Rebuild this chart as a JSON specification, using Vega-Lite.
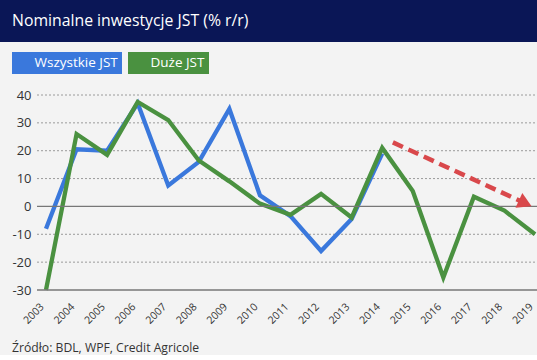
{
  "$schema": "https://vega.github.io/schema/vega-lite/v6.json",
  "background": "#f3f3f3",
  "padding": 0,
  "spacing": 10,
  "config": {"view": {"stroke": null}, "font": "Open Sans", "axis": {"labelOverlap": false, "labelSeparation": 0, "labelBound": false}},
  "datasets": {
    "main": [
      {"year": 2003, "series": "Wszystkie JST", "value": -8},
      {"year": 2004, "series": "Wszystkie JST", "value": 20.5},
      {"year": 2005, "series": "Wszystkie JST", "value": 20},
      {"year": 2006, "series": "Wszystkie JST", "value": 37},
      {"year": 2007, "series": "Wszystkie JST", "value": 7.5},
      {"year": 2008, "series": "Wszystkie JST", "value": 16},
      {"year": 2009, "series": "Wszystkie JST", "value": 35},
      {"year": 2010, "series": "Wszystkie JST", "value": 4},
      {"year": 2011, "series": "Wszystkie JST", "value": -3.5},
      {"year": 2012, "series": "Wszystkie JST", "value": -16},
      {"year": 2013, "series": "Wszystkie JST", "value": -4.5},
      {"year": 2014, "series": "Wszystkie JST", "value": 19},
      {"year": 2003, "series": "Duże JST", "value": -30},
      {"year": 2004, "series": "Duże JST", "value": 26},
      {"year": 2005, "series": "Duże JST", "value": 18.5},
      {"year": 2006, "series": "Duże JST", "value": 37.5},
      {"year": 2007, "series": "Duże JST", "value": 31},
      {"year": 2008, "series": "Duże JST", "value": 16.5},
      {"year": 2009, "series": "Duże JST", "value": 9},
      {"year": 2010, "series": "Duże JST", "value": 1},
      {"year": 2011, "series": "Duże JST", "value": -3},
      {"year": 2012, "series": "Duże JST", "value": 4.5},
      {"year": 2013, "series": "Duże JST", "value": -4},
      {"year": 2014, "series": "Duże JST", "value": 21},
      {"year": 2015, "series": "Duże JST", "value": 5.5},
      {"year": 2016, "series": "Duże JST", "value": -25.5},
      {"year": 2017, "series": "Duże JST", "value": 3.5},
      {"year": 2018, "series": "Duże JST", "value": -1.5},
      {"year": 2019, "series": "Duże JST", "value": -10}
    ],
    "grid": [{"value": -20}, {"value": -10}, {"value": 10}, {"value": 20}, {"value": 30}, {"value": 40}],
    "base": [{"value": -30}, {"value": 0}],
    "arrow": [{"year": 2014.35, "value": 23, "year2": 2018.55, "value2": 1.8}],
    "head": [{"year": 2018.68, "value": 1.1}]
  },
  "vconcat": [
    {
      "width": 537,
      "height": 42,
      "view": {"fill": "#0a1656", "stroke": null},
      "data": {"values": [{"t": "Nominalne inwestycje JST (% r/r)"}]},
      "mark": {"type": "text", "align": "left", "baseline": "middle", "color": "white", "fontSize": 15.8, "font": "Open Sans"},
      "encoding": {"text": {"field": "t"}, "x": {"value": 12}, "y": {"value": 21}}
    },
    {
      "width": 537,
      "height": 195,
      "title": {"text": "Źródło: BDL, WPF, Credit Agricole", "orient": "bottom", "anchor": "start", "frame": "group", "fontSize": 12.2, "fontWeight": "normal", "color": "#333333", "offset": 16, "dx": 12},
      "encoding": {
        "x": {"type": "quantitative", "scale": {"domain": [2001.495, 2019.065], "nice": false, "zero": false},
          "axis": {"title": null, "values": [2003,2004,2005,2006,2007,2008,2009,2010,2011,2012,2013,2014,2015,2016,2017,2018,2019], "format": "d", "labelAngle": -45, "labelAlign": "right", "labelBaseline": "middle", "labelFontSize": 10.5, "labelColor": "#333333", "ticks": false, "grid": false, "domain": false, "labelPadding": 15, "labelOffset": -4, "labelFlush": false, "labelOverlap": false}},
        "y": {"type": "quantitative", "scale": {"domain": [-30, 40], "nice": false},
          "axis": {"title": null, "values": [-30,-20,-10,0,10,20,30,40], "labelExpr": "datum.value < 0 ? '-' + abs(datum.value) : '' + datum.value", "domain": false, "ticks": false, "grid": false, "offset": -37, "labelFontSize": 13, "labelColor": "#333333", "labelPadding": 6, "labelOverlap": false}}
      },
      "layer": [
        {
          "data": {"name": "grid"},
          "mark": {"type": "rule", "color": "#9a9a9a", "strokeWidth": 1, "strokeDash": [2, 2]},
          "encoding": {
            "y": {"field": "value", "type": "quantitative"},
            "x": {"datum": 2002.706, "type": "quantitative"},
            "x2": {"datum": 2019.065}
          }
        },
        {
          "data": {"name": "main"},
          "transform": [{"filter": "datum.series === 'Wszystkie JST'"}],
          "mark": {"type": "line", "strokeWidth": 4.3, "strokeJoin": "miter"},
          "encoding": {
            "x": {"field": "year", "type": "quantitative"},
            "y": {"field": "value", "type": "quantitative"},
            "color": {"field": "series", "type": "nominal", "scale": {"domain": ["Wszystkie JST"], "range": ["#3a78dc"]},
              "legend": {"orient": "none", "legendX": 12, "legendY": -43, "title": null, "fillColor": "#3a78dc", "labelColor": "white", "labelFontSize": 13.5, "padding": 4, "symbolSize": 0, "symbolOpacity": 0, "labelOffset": 5, "labelExpr": "datum.label + ' '"}}
          }
        },
        {
          "data": {"name": "main"},
          "transform": [{"filter": "datum.series === 'Duże JST'"}],
          "mark": {"type": "line", "strokeWidth": 4.3, "strokeJoin": "miter"},
          "encoding": {
            "x": {"field": "year", "type": "quantitative"},
            "y": {"field": "value", "type": "quantitative"},
            "color": {"field": "series", "type": "nominal", "scale": {"domain": ["Duże JST"], "range": ["#4a9140"]},
              "legend": {"orient": "none", "legendX": 128, "legendY": -43, "title": null, "fillColor": "#4a9140", "labelColor": "white", "labelFontSize": 13.5, "padding": 4, "symbolSize": 0, "symbolOpacity": 0, "labelOffset": 5, "labelExpr": "datum.label + ' '"}}
          }
        },
        {
          "data": {"name": "base"},
          "mark": {"type": "rule", "color": "#777777", "strokeWidth": 1.3},
          "encoding": {
            "y": {"field": "value", "type": "quantitative"},
            "x": {"datum": 2002.706, "type": "quantitative"},
            "x2": {"datum": 2019.065}
          }
        },
        {
          "data": {"name": "arrow"},
          "mark": {"type": "rule", "color": "#d9484b", "strokeWidth": 4.5, "strokeDash": [11, 6]},
          "encoding": {
            "x": {"field": "year", "type": "quantitative"},
            "y": {"field": "value", "type": "quantitative"},
            "x2": {"field": "year2"},
            "y2": {"field": "value2"}
          }
        },
        {
          "data": {"name": "head"},
          "mark": {"type": "point", "shape": "triangle-right", "filled": true, "color": "#d9484b", "opacity": 1, "size": 260, "angle": 25},
          "encoding": {
            "x": {"field": "year", "type": "quantitative"},
            "y": {"field": "value", "type": "quantitative"}
          }
        }
      ],
      "resolve": {"scale": {"color": "independent"}, "legend": {"color": "independent"}}
    }
  ]
}
